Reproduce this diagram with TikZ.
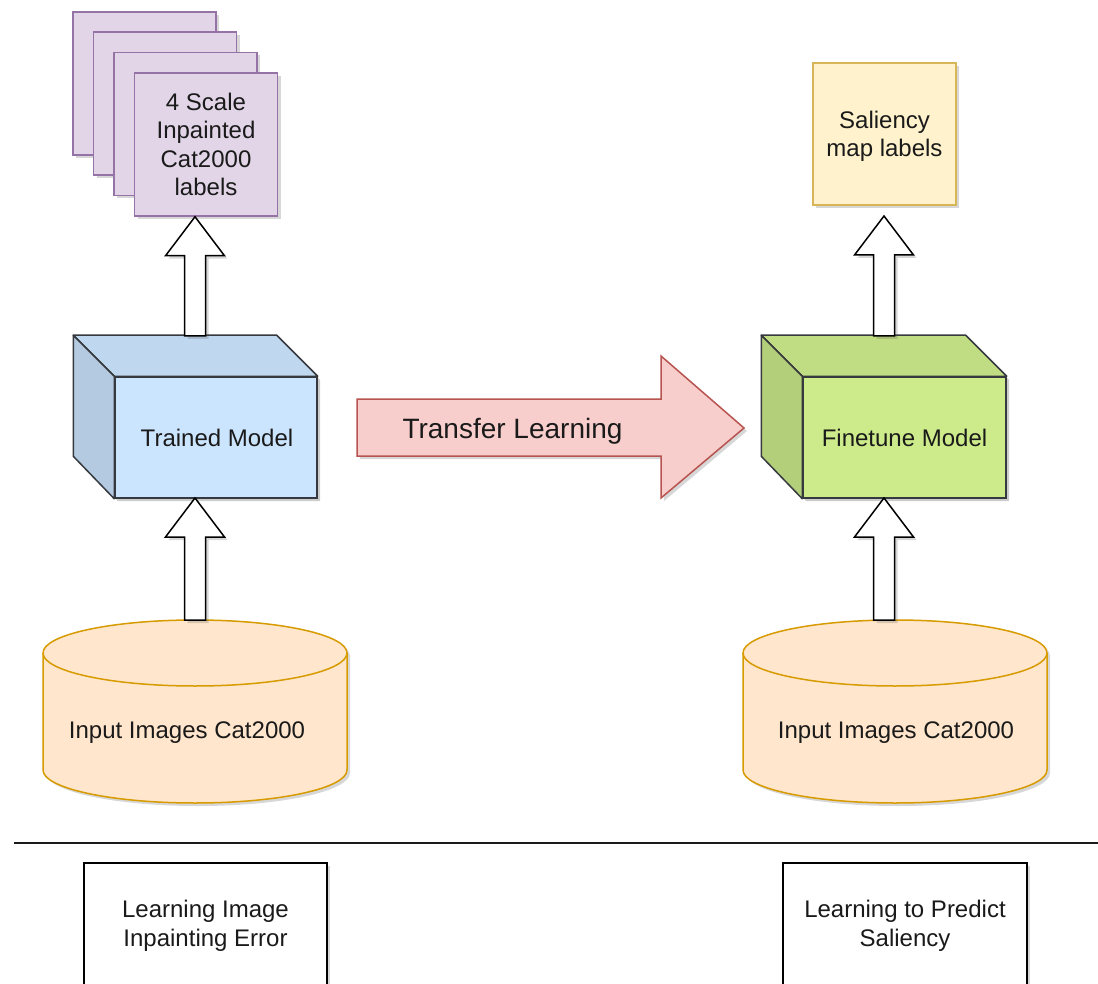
\documentclass[tikz,border=0pt]{standalone}
\usepackage{fontspec}
\setmainfont{Liberation Sans}
\usetikzlibrary{shadows,calc}
\definecolor{purfill}{HTML}{E1D5E7}
\definecolor{purline}{HTML}{9673A6}
\definecolor{bluefront}{HTML}{CCE5FF}
\definecolor{greenfront}{HTML}{CDEB8B}
\definecolor{cubeline}{HTML}{36393D}
\definecolor{redfill}{HTML}{F8CECC}
\definecolor{redline}{HTML}{B85450}
\definecolor{yelfill}{HTML}{FFF2CC}
\definecolor{yelline}{HTML}{D6B656}
\definecolor{orfill}{HTML}{FFE6CC}
\definecolor{orline}{HTML}{D79B00}
\definecolor{txt}{HTML}{1A1A1A}
\newcommand\lblfont{\fontsize{24}{28.5}\selectfont}
\newcommand\bigfont{\fontsize{28}{32}\selectfont}
\tikzset{
  shd/.style={drop shadow={shadow xshift=3pt,shadow yshift=-3pt,opacity=0.22,fill=black!70}},
  lbl/.style={font=\lblfont,text=txt,align=center,inner sep=0pt},
  card/.style={draw=purline,fill=purfill,line width=1.5pt,minimum width=143pt,minimum height=143pt,inner sep=0pt,shd,lbl},
  front/.style={draw=cubeline,line width=1.5pt,minimum width=202pt,minimum height=121pt,inner sep=0pt,lbl},
  cubeface/.style={draw=cubeline,line width=1.5pt,line join=round},
  hollow/.style={draw=black,fill=white,line width=1.5pt,line join=miter,shd},
  cyl/.style={draw=orline,fill=orfill,line width=1.5pt},
  plainbox/.style={draw=black,fill=white,line width=1.5pt,minimum width=243pt,minimum height=123pt,inner sep=0pt,shd,lbl},
}
\newcommand\hollowup[2]{%
  \path[hollow] let \p1=(#1), \p2=(#2) in
    (\x1-10.5pt,\y1) -- (\x1-10.5pt,\y2-39pt) -- (\x1-29.5pt,\y2-39pt) -- (\x1,\y2)
    -- (\x1+29.5pt,\y2-39pt) -- (\x1+10.5pt,\y2-39pt) -- (\x1+10.5pt,\y1) -- cycle;}
\begin{document}
\begin{tikzpicture}[x=1pt,y=-1pt]
\useasboundingbox (0,0) rectangle (1098,984);
\fill[white] (0,0) rectangle (1098,984);
\clip (0,0) rectangle (1098,984);

% stacked cards
\node[card] (c1) at (144.5,83.5) {};
\node[card] (c2) at (165,103.5) {};
\node[card] (c3) at (185.5,124) {};
\node[card] (c4) at (206,144.5) {4 Scale\\Inpainted\\Cat2000\\labels};

% trained model cube
\fill[black,opacity=0.2] (77,339) -- (279,339) -- (320,380) -- (320,501) -- (118,501) -- (77,460) -- cycle;
\node[front,fill=bluefront] (tm) at (216,437.5) {\hspace*{2pt}Trained Model};
\path[cubeface,fill=bluefront!94!black] (tm.north west) -- ++(-41,-41) -- ([xshift=-41pt,yshift=41pt]tm.north east) -- (tm.north east) -- cycle;
\path[cubeface,fill=bluefront!88!black] (tm.north west) -- ++(-41,-41) -- ++(0,121) -- (tm.south west) -- cycle;
\coordinate (tmtop) at (195,336);
\coordinate (tmbot) at (195,498);

% finetune model cube
\fill[black,opacity=0.2] (766,339) -- (968,339) -- (1009,380) -- (1009,501) -- (806,501) -- (766,460) -- cycle;
\node[front,fill=greenfront,minimum width=203pt] (fm) at (904.5,437.5) {Finetune Model};
\path[cubeface,fill=greenfront!94!black] (fm.north west) -- ++(-41,-41) -- ([xshift=-41pt,yshift=41pt]fm.north east) -- (fm.north east) -- cycle;
\path[cubeface,fill=greenfront!88!black] (fm.north west) -- ++(-41,-41) -- ++(0,121) -- (fm.south west) -- cycle;
\coordinate (fmtop) at (884,336);
\coordinate (fmbot) at (884,498);

% saliency labels
\node[draw=yelline,fill=yelfill,line width=1.5pt,minimum width=143pt,minimum height=142pt,inner sep=0pt,shd,lbl] (sal) at (884.5,134) {};
\node[lbl] (saltxt) at (884.5,136.5) {Saliency\\map labels};
\coordinate (saltip) at (884,216);

% cylinders
\path[cyl,shd] (43,653) -- (43,770) arc[start angle=180,end angle=0,x radius=152,y radius=33]
  -- (347,653) arc[start angle=0,end angle=-180,x radius=152,y radius=33] -- cycle;
\draw[orline,line width=1.5pt] (43,653) arc[start angle=180,end angle=0,x radius=152,y radius=33];
\node[lbl] (db1) at (187,733) {Input Images Cat2000};
\coordinate (db1top) at (195,620);

\path[cyl,shd] (743,653) -- (743,770) arc[start angle=180,end angle=0,x radius=152,y radius=33]
  -- (1047,653) arc[start angle=0,end angle=-180,x radius=152,y radius=33] -- cycle;
\draw[orline,line width=1.5pt] (743,653) arc[start angle=180,end angle=0,x radius=152,y radius=33];
\node[lbl] (db2) at (896,733) {Input Images Cat2000};
\coordinate (db2top) at (884,620);

% hollow arrows
\hollowup{tmtop}{c4.south -| tmtop}
\hollowup{db1top}{tmbot}
\hollowup{fmtop}{saltip}
\hollowup{db2top}{fmbot}

% transfer learning arrow
\path[draw=redline,fill=redfill,line width=1.5pt,line join=miter,shd]
  (357,399) -- (661,399) -- (661,356) -- (744,428) -- (661,498) -- (661,456) -- (357,456) -- cycle;
\node[font=\bigfont,text=txt,inner sep=0pt] (tl) at (512.5,431) {Transfer Learning};

% separator
\draw[line width=2pt,color=txt,shd] (14,843) -- (1098,843);

% bottom boxes
\node[plainbox] (b1) at (205.5,924.5) {};
\node[lbl] (b1txt) at (205.5,926) {Learning Image\\Inpainting Error};
\node[plainbox,minimum width=244pt] (b2) at (905,924.5) {};
\node[lbl] (b2txt) at (905,926) {Learning to Predict\\Saliency};
\end{tikzpicture}
\end{document}
